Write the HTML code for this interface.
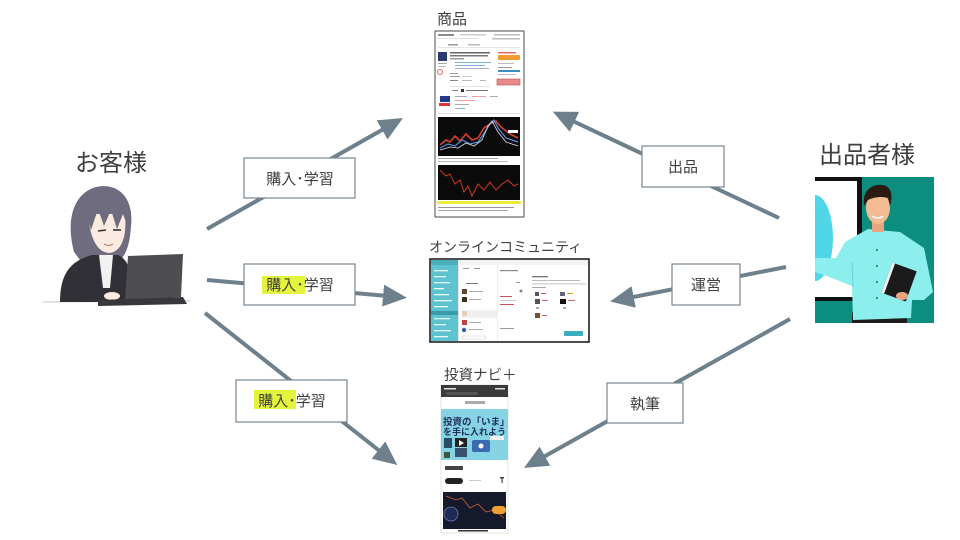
<!DOCTYPE html>
<html>
<head>
<meta charset="utf-8">
<style>
html,body{margin:0;padding:0;background:#fff;}
body{width:960px;height:540px;overflow:hidden;}
svg{display:block;}
text{font-family:"Liberation Sans","Noto Sans CJK JP",sans-serif;fill:#3e3e3e;}
</style>
</head>
<body>
<svg width="960" height="540" viewBox="0 0 960 540" xmlns="http://www.w3.org/2000/svg">
<defs>
  <marker id="ah" markerUnits="userSpaceOnUse" markerWidth="26" markerHeight="24" refX="16" refY="11" orient="auto">
    <path d="M0,0 L24,11 L0,22 Z" fill="#6d808c"/>
  </marker>
  <clipPath id="pclip"><rect x="815" y="177" width="119" height="146"/></clipPath>
</defs>

<!-- ===== Arrows ===== -->
<g stroke="#6d808c" stroke-width="4" fill="none" marker-end="url(#ah)">
  <line x1="207" y1="229" x2="396" y2="122"/>
  <line x1="207" y1="280" x2="399" y2="297"/>
  <line x1="205" y1="313" x2="391" y2="460"/>
  <line x1="779" y1="218" x2="560" y2="115"/>
  <line x1="786" y1="267" x2="618" y2="300"/>
  <line x1="790" y1="319" x2="531" y2="464"/>
</g>

<!-- ===== Label boxes ===== -->
<g fill="#fff" stroke="#76868f" stroke-width="1.2">
  <rect x="244" y="158" width="111" height="40"/>
  <rect x="244" y="264" width="111" height="41"/>
  <rect x="236" y="380" width="111" height="42"/>
  <rect x="642" y="146" width="82" height="41"/>
  <rect x="672" y="264" width="68" height="41"/>
  <rect x="607" y="383" width="76" height="40"/>
</g>
<rect x="262" y="276" width="43" height="18" fill="#e4f43c"/>
<rect x="254" y="390" width="42" height="19" fill="#e4f43c"/>
<g font-size="15" text-anchor="middle">
  <text x="300" y="184">購入･学習</text>
  <text x="300" y="290">購入･学習</text>
  <text x="292" y="406">購入･学習</text>
  <text x="683" y="172">出品</text>
  <text x="706" y="290">運営</text>
  <text x="645" y="409">執筆</text>
</g>

<!-- ===== Titles ===== -->
<text x="75" y="171" font-size="24">お客様</text>
<text x="819" y="163" font-size="24">出品者様</text>
<text x="437" y="24" font-size="15">商品</text>
<text x="429" y="252" font-size="14">オンラインコミュニティ</text>
<text x="444" y="380" font-size="14.5">投資ナビ＋</text>

<!-- ===== Customer (girl with laptop) ===== -->
<g>
  <line x1="43" y1="302" x2="190" y2="301" stroke="#c4c4c4" stroke-width="1"/>
  <path d="M74,252 C66,222 72,194 96,187 C120,182 134,200 131,226 C130,242 127,252 122,258 L80,260 Z" fill="#6e6c7e"/>
  <path d="M88,214 C90,240 98,253 110,253 C122,251 127,236 125,214 Z" fill="#fbeadf"/>
  <path d="M78,228 C79,202 94,190 108,191 C123,193 131,206 129,230 L123,214 L117,229 L111,210 L104,226 L98,209 L91,230 L86,214 Z" fill="#6e6c7e"/>
  <path d="M98,231 l8,-1" stroke="#333" stroke-width="1.6"/>
  <path d="M113,230 l8,0" stroke="#333" stroke-width="1.6"/>
  <path d="M104,244 q5,3 9,0" stroke="#b07070" stroke-width="1" fill="none"/>
  <path d="M60,302 C60,274 70,261 92,255 L118,255 C128,259 133,272 133,302 Z" fill="#303036"/>
  <path d="M99,255 L113,255 L110,288 L103,288 Z" fill="#f1f1f1"/>
  <path d="M128,256 L183,254 L181,297 L125,300 Z" fill="#4d4d52"/>
  <ellipse cx="112" cy="296" rx="8" ry="4" fill="#fbeadf"/>
  <path d="M98,300 L183,297 L187,304 L98,306 Z" fill="#38383c"/>
</g>

<!-- ===== Presenter ===== -->
<g clip-path="url(#pclip)">
  <rect x="815" y="177" width="119" height="146" fill="#0c8d80"/>
  <rect x="815" y="177" width="47" height="124" fill="#111"/>
  <rect x="815" y="181" width="42" height="116" fill="#fff"/>
  <ellipse cx="815" cy="238" rx="18" ry="43" fill="#4fd7e8"/>
  <rect x="852" y="312" width="55" height="12" fill="#1b1b1b"/>
  <path d="M845,242 L868,229 L900,232 L924,248 L933,292 L924,300 L912,300 L911,318 L853,320 L852,286 L832,278 L815,272 L815,258 L836,258 Z" fill="#8deeee"/>
  <path d="M853,286 L852,262" stroke="#6cd0d0" stroke-width="1"/>
  <rect x="872" y="220" width="12" height="12" fill="#e8a57e"/>
  <ellipse cx="878" cy="208" rx="12" ry="16" fill="#f2bb92"/>
  <path d="M864,206 C862,190 872,184 882,185 C892,186 893,196 890,206 L888,198 C882,196 874,197 868,200 Z" fill="#2b1b12"/>
  <path d="M872,216 q6,4 11,0" stroke="#fff" stroke-width="1.5" fill="none"/>
  <g transform="rotate(20 899 282)">
    <rect x="886" y="266" width="26" height="32" fill="#1a1a1a"/>
    <rect x="886" y="266" width="3" height="32" fill="#eee"/>
  </g>
  <ellipse cx="902" cy="296" rx="6" ry="4" fill="#e8a57e"/>
  <g fill="#2a6a6a"><circle cx="877" cy="250" r="1"/><circle cx="877" cy="266" r="1"/><circle cx="877" cy="282" r="1"/><circle cx="877" cy="298" r="1"/></g>
</g>

<!-- ===== Product screenshot ===== -->
<g>
  <rect x="435" y="31" width="89" height="186" fill="#fff" stroke="#4a4a4a" stroke-width="1"/>
  <rect x="438" y="34" width="16" height="2" fill="#8a8a8a"/>
  <rect x="460" y="34" width="26" height="1.5" fill="#ccc"/>
  <rect x="494" y="34" width="26" height="1.5" fill="#bbb"/>
  <rect x="438" y="38" width="40" height="1" fill="#ddd"/>
  <rect x="492" y="38" width="28" height="1.5" fill="#bbb"/>
  <rect x="448" y="44" width="10" height="1.5" fill="#999"/>
  <rect x="468" y="44" width="12" height="1.5" fill="#bbb"/>
  <rect x="438" y="47" width="82" height="0.8" fill="#ddd"/>
  <rect x="438" y="52" width="9" height="9" fill="#2c3a74"/>
  <rect x="450" y="52" width="40" height="1.5" fill="#666"/>
  <rect x="450" y="55" width="38" height="1.5" fill="#777"/>
  <rect x="450" y="58" width="14" height="1.5" fill="#999"/>
  <rect x="438" y="63" width="9" height="1" fill="#aaa"/>
  <rect x="438" y="66" width="8" height="1" fill="#bbb"/>
  <rect x="498" y="52" width="18" height="1.5" fill="#e56a5a"/>
  <rect x="498" y="55" width="22" height="5" rx="1" fill="#f39a2d"/>
  <rect x="455" y="62" width="36" height="1" fill="#7fb0d8"/>
  <rect x="455" y="65" width="30" height="1" fill="#7fb0d8"/>
  <rect x="455" y="68" width="34" height="1" fill="#aac"/>
  <circle cx="440" cy="72" r="2.5" fill="none" stroke="#e06060" stroke-width="1"/>
  <rect x="498" y="63" width="16" height="1" fill="#bbb"/>
  <rect x="498" y="67" width="14" height="1" fill="#999"/>
  <rect x="498" y="70" width="22" height="2" fill="#3a8fc0"/>
  <rect x="498" y="74" width="18" height="1" fill="#bbb"/>
  <rect x="450" y="73" width="8" height="1" fill="#999"/>
  <rect x="450" y="76" width="10" height="1" fill="#999"/>
  <rect x="462" y="76" width="10" height="1" fill="#ccc"/>
  <rect x="497" y="79" width="23" height="6" fill="#e98a8a" stroke="#c05050" stroke-width="0.6"/>
  <rect x="450" y="80" width="8" height="1" fill="#888"/>
  <rect x="462" y="80" width="10" height="1" fill="#bbb"/>
  <rect x="480" y="80" width="6" height="1" fill="#bbb"/>
  <rect x="450" y="86" width="40" height="0.8" fill="#ddd"/>
  <rect x="452" y="90" width="6" height="1" fill="#888"/>
  <rect x="461" y="89" width="3" height="3" fill="#333"/>
  <rect x="466" y="90" width="22" height="1" fill="#777"/>
  <rect x="440" y="96" width="10" height="6" fill="#1e3a8a"/>
  <rect x="439" y="103" width="11" height="3" fill="#d33"/>
  <rect x="455" y="96" width="12" height="1" fill="#aaa"/>
  <rect x="472" y="96" width="14" height="1" fill="#f0a0a0"/>
  <rect x="490" y="96" width="8" height="1" fill="#aaa"/>
  <rect x="455" y="100" width="20" height="1" fill="#f0a0a0"/>
  <rect x="455" y="104" width="14" height="1" fill="#aaa"/>
  <rect x="455" y="108" width="10" height="1" fill="#7fb0d8"/>
  <rect x="438" y="113" width="82" height="0.8" fill="#ddd"/>
  <rect x="438" y="117" width="82" height="39" fill="#0b0b0b"/>
  <polyline points="440,145 446,140 450,142 455,136 460,141 466,134 472,140 478,138 484,128 490,124 496,121 500,126 506,131 512,135 518,138" fill="none" stroke="#d84030" stroke-width="1.6"/>
  <polyline points="440,148 448,144 455,146 462,140 470,144 478,142 485,132 490,124 494,120 498,128 506,138 512,140 518,142" fill="none" stroke="#5a8ee0" stroke-width="1.2"/>
  <polyline points="440,150 450,147 458,148 466,143 474,146 482,140 488,126 492,121 498,132 506,142 518,146" fill="none" stroke="#dde" stroke-width="0.8"/>
  <rect x="508" y="130" width="10" height="3" fill="#fff"/>
  <rect x="438" y="158" width="60" height="1" fill="#aaa"/>
  <rect x="438" y="161" width="70" height="1" fill="#bbb"/>
  <rect x="438" y="165" width="82" height="35" fill="#0b0b0b"/>
  <polyline points="440,170 446,176 450,174 455,184 460,180 464,192 468,186 472,196 478,184 484,190 490,182 496,190 502,184 508,180 514,186 518,184" fill="none" stroke="#c83a20" stroke-width="1"/>
  <rect x="437" y="201" width="84" height="3" fill="#eeea3a"/>
  <rect x="438" y="207" width="76" height="1" fill="#999"/>
  <rect x="438" y="210" width="70" height="1" fill="#aaa"/>
</g>

<!-- ===== Community screenshot ===== -->
<g>
  <rect x="430" y="259" width="159" height="83" fill="#fff" stroke="#111" stroke-width="1.5"/>
  <rect x="431" y="260" width="157" height="5" fill="#f3f3f3"/>
  <rect x="431" y="260" width="27" height="81" fill="#5dc3cf"/>
  <rect x="431" y="260" width="27" height="5" fill="#48aebb"/>
  <g fill="#e8fafc">
    <rect x="434" y="270" width="14" height="1.3"/><rect x="434" y="276" width="12" height="1.3"/>
    <rect x="434" y="282" width="16" height="1.3"/><rect x="434" y="288" width="10" height="1.3"/>
    <rect x="434" y="294" width="15" height="1.3"/><rect x="434" y="300" width="18" height="1.3"/>
    <rect x="434" y="306" width="14" height="1.3"/><rect x="434" y="318" width="16" height="1.3"/>
    <rect x="434" y="324" width="12" height="1.3"/><rect x="434" y="330" width="17" height="1.3"/>
    <rect x="434" y="336" width="14" height="1.3"/>
  </g>
  <rect x="431" y="311" width="27" height="4" fill="#3a9aa8"/>
  <rect x="458" y="265" width="1" height="76" fill="#e4e4e4"/>
  <rect x="497" y="265" width="1" height="76" fill="#eee"/>
  <rect x="463" y="268" width="6" height="1" fill="#999"/><rect x="474" y="268" width="6" height="1" fill="#999"/>
  <rect x="466" y="283" width="12" height="1" fill="#777"/>
  <rect x="462" y="289" width="5" height="5" fill="#5a4a30"/><rect x="469" y="291" width="14" height="1" fill="#aaa"/>
  <rect x="462" y="297" width="5" height="5" fill="#3a3020"/><rect x="469" y="299" width="12" height="1" fill="#aaa"/>
  <rect x="462" y="310" width="35" height="8" fill="#f0f0f0"/>
  <rect x="462" y="311" width="5" height="5" fill="#e8d0c0"/>
  <rect x="462" y="320" width="5" height="5" fill="#c04040"/><rect x="469" y="322" width="12" height="1" fill="#aaa"/>
  <circle cx="464" cy="330" r="2.2" fill="#3060b0"/><rect x="469" y="329" width="14" height="1" fill="#aaa"/>
  <rect x="462" y="336" width="24" height="3" rx="1.5" fill="none" stroke="#ccc" stroke-width="0.6"/>
  <rect x="500" y="270" width="18" height="1.2" fill="#888"/>
  <rect x="516" y="282" width="4" height="1" fill="#999"/>
  <circle cx="521" cy="291" r="1.5" fill="#888"/>
  <rect x="500" y="296" width="12" height="1" fill="#d05050"/><rect x="500" y="300" width="16" height="1" fill="#ccc"/>
  <rect x="500" y="304" width="14" height="1" fill="#d05050"/>
  <rect x="500" y="328" width="14" height="1" fill="#999"/>
  <rect x="532" y="276" width="16" height="1.3" fill="#777"/>
  <rect x="532" y="280" width="48" height="1" fill="#bbb"/>
  <rect x="532" y="283" width="54" height="1.5" fill="#d6d6d6"/>
  <rect x="532" y="287" width="14" height="1" fill="#aaa"/>
  <rect x="535" y="292" width="4" height="4" fill="#556"/><rect x="541" y="293" width="5" height="1" fill="#c44"/>
  <rect x="560" y="292" width="5" height="4" fill="#667"/><rect x="567" y="293" width="6" height="1" fill="#d0a020"/>
  <rect x="535" y="299" width="5" height="5" fill="#555"/><rect x="542" y="300" width="6" height="1" fill="#c66"/>
  <rect x="560" y="299" width="6" height="5" fill="#111"/><rect x="568" y="300" width="7" height="1" fill="#c66"/>
  <rect x="536" y="307" width="3" height="2" fill="#aab"/><rect x="563" y="307" width="3" height="2" fill="#aab"/>
  <rect x="535" y="313" width="5" height="5" fill="#7a5030"/><rect x="542" y="315" width="5" height="1" fill="#c66"/>
  <rect x="564" y="331" width="19" height="5" rx="1" fill="#3aaec0"/>
</g>

<!-- ===== Phone screenshot ===== -->
<g>
  <rect x="441" y="385" width="67" height="148" fill="#fff" stroke="#ddd" stroke-width="0.8"/>
  <rect x="441" y="385" width="67" height="12" fill="#3a3a3a"/>
  <rect x="444" y="388" width="12" height="1.5" fill="#ddd"/><rect x="495" y="388" width="10" height="1.5" fill="#ddd"/>
  <rect x="446" y="392" width="32" height="3" rx="1.5" fill="#555"/>
  <rect x="465" y="401" width="20" height="3" fill="#aaa"/>
  <rect x="441" y="409" width="67" height="51" fill="#86d3e3"/>
  <text x="443" y="425" font-size="9.5" font-weight="bold" style="fill:#1d2f5a">投資の「いま」</text>
  <text x="443" y="435" font-size="9" font-weight="bold" style="fill:#1d2f5a">を手に入れよう</text>
  <rect x="444" y="438" width="8" height="10" fill="#2a4a6a"/>
  <rect x="455" y="438" width="12" height="9" fill="#222"/>
  <polygon points="459,440 464,443 459,446" fill="#fff"/>
  <rect x="455" y="448" width="12" height="9" fill="#3a5070"/>
  <rect x="472" y="440" width="18" height="12" rx="2" fill="#3a6ab0"/>
  <circle cx="481" cy="446" r="2.5" fill="#fff"/>
  <rect x="490" y="436" width="14" height="4" fill="#f0f0f0"/>
  <rect x="444" y="452" width="6" height="6" fill="#3a5a3a"/>
  <rect x="445" y="466" width="18" height="4" fill="#444"/>
  <rect x="445" y="478" width="18" height="6" rx="3" fill="#222"/>
  <rect x="469" y="480" width="12" height="1" fill="#ccc"/>
  <rect x="500" y="477" width="4" height="1.5" fill="#444"/><rect x="501.5" y="477" width="1.2" height="6" fill="#444"/>
  <rect x="443" y="492" width="63" height="37" fill="#141a2c"/>
  <polyline points="446,496 456,500 462,498 470,508 478,504 486,512 494,510 504,518" fill="none" stroke="#d06030" stroke-width="0.8"/>
  <circle cx="451" cy="514" r="7" fill="#1e2a55" stroke="#6a7ab0" stroke-width="0.8"/>
  <rect x="492" y="506" width="14" height="8" rx="4" fill="#f0a030"/>
  <rect x="458" y="530" width="30" height="1.5" fill="#333"/>
</g>
</svg>
</body>
</html>
